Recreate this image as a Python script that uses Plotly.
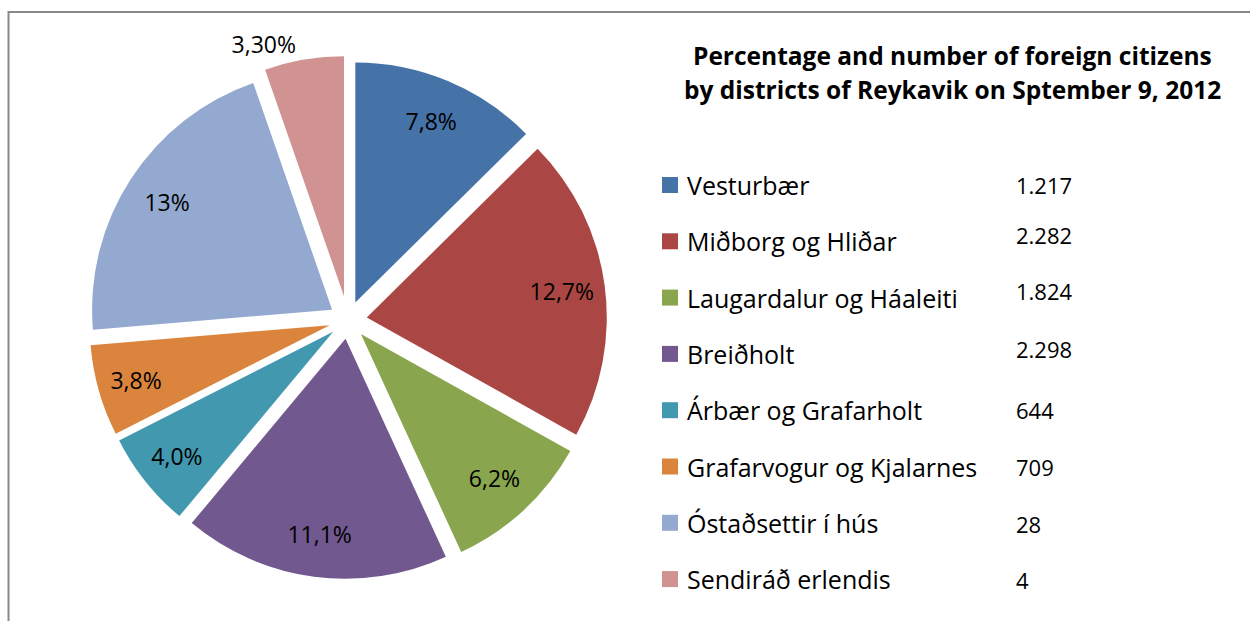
import plotly.graph_objects as go

# ---- data ----
districts = ["Vesturbær", "Miðborg og Hliðar", "Laugardalur og Háaleiti", "Breiðholt",
             "Árbær og Grafarholt", "Grafarvogur og Kjalarnes", "Óstaðsettir í hús",
             "Sendiráð erlendis"]
percent_values = [7.8, 12.7, 6.2, 11.1, 4.0, 3.8, 13.0, 3.3]
percent_labels = ["7,8%", "12,7%", "6,2%", "11,1%", "4,0%", "3,8%", "13%", "3,30%"]
citizen_counts = ["1.217", "2.282", "1.824", "2.298", "644", "709", "28", "4"]
title_lines = ["Percentage and number of foreign citizens",
               "by districts of Reykavik on Sptember 9, 2012"]

# ---- style ----
colors = ["#4572A7", "#AA4643", "#89A54E", "#71588F", "#4198AF", "#DB843D",
          "#93A9CF", "#D19392"]
slice_pull = [0.079, 0.079, 0.079, 0.079, 0.079, 0.079, 0.079, 0.1]
FONT = "Open Sans"
W, H = 1250, 621
count_y_offsets = [0, -6, -7, -5, 0, 0, 1, 1]   # text-box nudges of the count column


def px_x(x):
    return x / W


def px_y(y):
    return 1 - y / H


pie_common = dict(
    values=percent_values, labels=districts, sort=False, direction="clockwise",
    rotation=0, pull=slice_pull, showlegend=False, automargin=False,
    domain=dict(x=[px_x(84), px_x(612)], y=[px_y(584), px_y(56)]),
)

fig = go.Figure()
fig.add_trace(go.Pie(
    **pie_common,
    marker=dict(colors=colors, line=dict(width=0)),
    textinfo="none", hoverinfo="label+text", text=percent_labels,
))
# label layer: same pie, transparent, with a hole so inside labels sit near the rim
fig.add_trace(go.Pie(
    **pie_common, hole=0.64,
    marker=dict(colors=["rgba(0,0,0,0)"] * len(districts), line=dict(width=0)),
    text=percent_labels, textinfo="text",
    textposition=["inside"] * (len(districts) - 1) + ["outside"],
    insidetextorientation="horizontal",
    textfont=dict(family=FONT, size=23, color="black"),
    hoverinfo="skip",
))

annotations = []
shapes = []
# title
for i, line in enumerate(title_lines):
    annotations.append(dict(
        text="<b>%s</b>" % line, x=px_x(952), y=px_y(56 + 34 * i),
        xref="paper", yref="paper", xanchor="center", yanchor="middle",
        showarrow=False, font=dict(family=FONT, size=24.5, color="black")))

# legend with count column
row0, step = 185, 56.3
for i, (name, col, cnt) in enumerate(zip(districts, colors, citizen_counts)):
    yc = row0 + step * i
    shapes.append(dict(type="rect", xref="paper", yref="paper",
                       x0=px_x(662), x1=px_x(678), y0=px_y(yc + 8), y1=px_y(yc - 8),
                       fillcolor=col, line=dict(width=0)))
    annotations.append(dict(
        text=name, x=px_x(685), y=px_y(yc), xref="paper", yref="paper",
        xanchor="left", yanchor="middle", showarrow=False,
        font=dict(family=FONT, size=25, color="black")))
    annotations.append(dict(
        text=cnt, x=px_x(1014), y=px_y(yc + count_y_offsets[i]), xref="paper",
        yref="paper", xanchor="left", yanchor="middle", showarrow=False,
        font=dict(family=FONT, size=22, color="black")))

# chart border (only top and left edges fall inside the picture)
shapes.append(dict(type="rect", xref="paper", yref="paper",
                   x0=px_x(8.5), x1=1.03, y0=-0.03, y1=px_y(12),
                   line=dict(color="#888888", width=2), fillcolor="rgba(0,0,0,0)"))

fig.update_layout(
    width=W, height=H, autosize=False,
    margin=dict(l=0, r=0, t=0, b=0, pad=0, autoexpand=False),
    paper_bgcolor="white", plot_bgcolor="white",
    annotations=annotations, shapes=shapes,
    font=dict(family=FONT, color="black"),
)

fig.write_html("out.html", config={"displayModeBar": False},
               post_script="document.body.style.margin='0';document.body.style.overflow='hidden';")
